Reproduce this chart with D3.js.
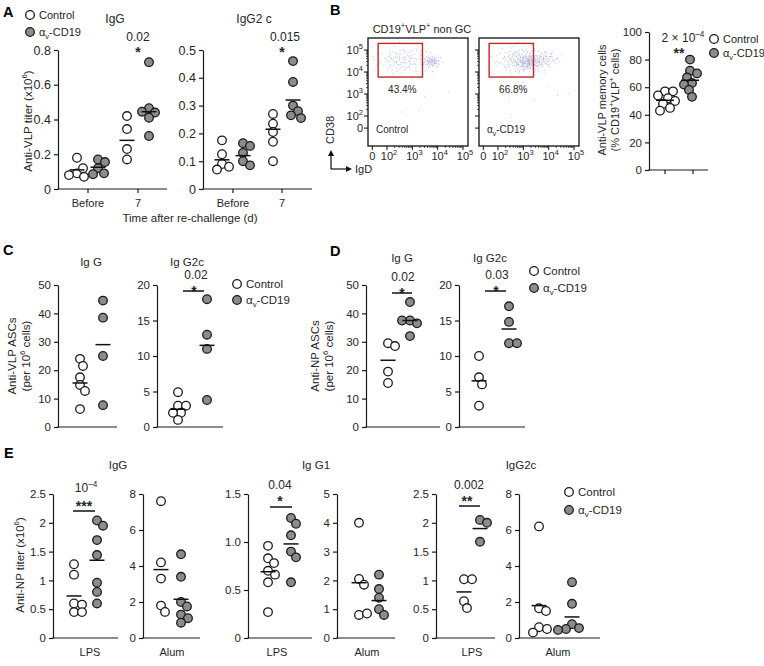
<!DOCTYPE html>
<html>
<head>
<meta charset="utf-8">
<script src="https://cdn.jsdelivr.net/npm/d3@7"></script>
<style>
  body { margin: 0; background: #fff; }
  svg { font-family: "Liberation Sans", Arial, Helvetica, sans-serif; }
</style>
</head>
<body>
<svg id="fig" width="764" height="666"></svg>
<script>
// ---------- data ----------
var groupNames = ['Control', 'αv-CD19'];

// A: anti-VLP titer (x10^6), before / day 7 after re-challenge
var aTimes = ['Before', '7'];
var aIgGCtrl = [[0.18, 0.09, 0.07, 0.08, 0.12], [0.42, 0.345, 0.23, 0.17]];
var aIgGCd19 = [[0.12, 0.17, 0.155, 0.09, 0.085], [0.73, 0.465, 0.44, 0.445, 0.41, 0.305]];
var aIgGCtrlMean = [0.11, 0.28];
var aIgGCd19Mean = [0.125, 0.445];
var aIgG2cCtrl = [[0.175, 0.125, 0.09, 0.08, 0.07], [0.27, 0.235, 0.205, 0.17, 0.1]];
var aIgG2cCd19 = [[0.165, 0.155, 0.13, 0.1, 0.085], [0.46, 0.385, 0.3, 0.28, 0.265, 0.255]];
var aIgG2cCtrlMean = [0.105, 0.215];
var aIgG2cCd19Mean = [0.12, 0.32];
var aTicksIgG = [0, 0.2, 0.4, 0.6, 0.8];
var aTicksIgG2c = [0, 0.1, 0.2, 0.3, 0.4, 0.5];
var aPvals = ['0.02', '0.015'];

// B: flow plots (log decades) and memory cell %
var flowTickExp = [0, 2, 3, 4, 5];
var flowGate = [1.65, 3.4, 3.77, 5.3];      // x from, x to, y from, y to (decades)
var flowGatePct = ['43.4%', '66.8%'];
var flowCtrlClusters = [
  {x: 2.6, y: 4.55, sx: 0.5, sy: 0.3, n: 120},
  {x: 3.75, y: 4.5, sx: 0.18, sy: 0.14, n: 80},
  {x: 3.0, y: 3.0, sx: 0.8, sy: 0.7, n: 8}
];
var flowCd19Clusters = [
  {x: 2.9, y: 4.55, sx: 0.5, sy: 0.3, n: 190},
  {x: 3.2, y: 4.45, sx: 0.25, sy: 0.18, n: 120},
  {x: 3.8, y: 4.6, sx: 0.3, sy: 0.2, n: 60},
  {x: 3.3, y: 3.0, sx: 0.9, sy: 0.6, n: 10}
];
var bCtrl = [57, 57, 54, 52, 50, 48, 45, 43];
var bCd19 = [80, 72, 70, 67, 63, 62, 58, 53];
var bMeans = [50.5, 65];
var bTicks = [0, 20, 40, 60, 80, 100];

// C: anti-VLP ASCs per 10^6 cells
var cIgGCtrl = [24, 21.5, 17.5, 14.8, 12.7, 6.3];
var cIgGCd19 = [44.5, 38.5, 25, 7.7];
var cIgGMeans = [15.5, 29];
var cIgG2cCtrl = [4.9, 3, 3, 2, 2, 1];
var cIgG2cCd19 = [18, 13, 11, 3.8];
var cIgG2cMeans = [2.5, 11.5];

// D: anti-NP ASCs per 10^6 cells
var dIgGCtrl = [29.5, 28.5, 19.5, 15.5];
var dIgGCd19 = [44, 37.5, 36.5, 37.5, 32];
var dIgGMeans = [23.5, 37.5];
var dIgG2cCtrl = [10, 7, 6, 3];
var dIgG2cCd19 = [17, 14.8, 11.8, 11.8];
var dIgG2cMeans = [6.5, 13.8];
var ascTicks50 = [0, 10, 20, 30, 40, 50];
var ascTicks20 = [0, 5, 10, 15, 20];

// E: anti-NP titer (x10^6), LPS / Alum
var eIgGLpsCtrl = [1.28, 1.1, 0.6, 0.58, 0.45, 0.45];
var eIgGLpsCd19 = [2.04, 1.95, 1.7, 1.44, 0.96, 0.8, 0.6];
var eIgGLpsMeans = [0.73, 1.35];
var eIgGAlumCtrl = [7.6, 4.2, 3.3, 1.8, 1.45];
var eIgGAlumCd19 = [4.65, 3.4, 2.0, 1.75, 1.3, 1.1, 0.85];
var eIgGAlumMeans = [3.8, 2.15];
var eIgG1LpsCtrl = [0.96, 0.83, 0.78, 0.7, 0.66, 0.58, 0.27];
var eIgG1LpsCd19 = [1.25, 1.19, 1.07, 0.9, 0.84, 0.58];
var eIgG1LpsMeans = [0.69, 0.98];
var eIgG1AlumCtrl = [4.0, 2.05, 1.85, 0.8, 0.85];
var eIgG1AlumCd19 = [2.2, 1.7, 1.4, 1.0, 0.8];
var eIgG1AlumMeans = [1.92, 1.3];
var eIgG2cLpsCtrl = [1.02, 1.02, 0.64, 0.52];
var eIgG2cLpsCd19 = [2.05, 2.0, 1.67];
var eIgG2cLpsMeans = [0.8, 1.9];
var eIgG2cAlumCtrl = [6.2, 1.65, 1.5, 0.6, 0.5, 0.3];
var eIgG2cAlumCd19 = [3.1, 1.9, 0.77, 0.55, 0.5, 0.45];
var eIgG2cAlumMeans = [1.8, 1.17];
var eTicks25 = [0, 0.5, 1, 1.5, 2, 2.5];
var eTicks8 = [0, 2, 4, 6, 8];
var eTicks15 = [0, 0.5, 1.0, 1.5];
var eTicks5 = [0, 1, 2, 3, 4, 5];

// ---------- drawing ----------
var fig = d3.select('#fig');
var INK = '#262626';
var GREY = '#8c8c8c';
var R = 4.3;

function rich(g, x, y, parts, o) {
  o = o || {};
  var fs = o.size || 11;
  var t = g.append('text')
    .attr('x', x).attr('y', y)
    .attr('font-size', fs)
    .attr('text-anchor', o.anchor || 'start')
    .attr('fill', INK);
  if (o.weight) t.attr('font-weight', o.weight);
  if (o.rotate) t.attr('transform', 'rotate(-90,' + x + ',' + y + ')');
  var shift = 0;
  [].concat(parts).forEach(function(p) {
    var s = typeof p === 'string' ? [p, ''] : p;
    var target = s[1] === 'sup' ? -0.42 * fs : (s[1] === 'sub' ? 0.28 * fs : 0);
    var ts = t.append('tspan').text(s[0]).attr('dy', target - shift);
    if (s[1]) ts.attr('font-size', fs * 0.68);
    shift = target;
  });
  return t;
}

var cd19Label = ['α', ['v', 'sub'], '-CD19'];

function dot(g, x, y, filled) {
  g.append('circle').attr('cx', x).attr('cy', y).attr('r', R)
    .attr('fill', filled ? GREY : '#fff')
    .attr('stroke', '#1a1a1a').attr('stroke-width', 1.3);
}

function legend(cx, y1, y2, size) {
  var g = fig.append('g');
  dot(g, cx, y1, false);
  dot(g, cx, y2, true);
  rich(g, cx + 9, y1 + 4, 'Control', {size: size || 11});
  rich(g, cx + 9, y2 + 4, cd19Label, {size: size || 11});
}

function swarm(vals, y, cx, minD) {
  var placed = [];
  return vals.map(function(v) {
    var py = y(v), px = cx;
    for (var k = 0; k < 40; k++) {
      var dx = (k % 2 ? 1 : -1) * Math.ceil(k / 2);
      px = cx + dx;
      var ok = placed.every(function(p) { return Math.hypot(p[0] - px, p[1] - py) >= minD; });
      if (ok) break;
    }
    placed.push([px, py]);
    return {v: v, x: px, y: py};
  });
}

function dotPlot(s) {
  var g = fig.append('g');
  var y = d3.scaleLinear().domain([0, s.max]).range([s.bot, s.top]);
  var ya = g.append('g')
    .attr('transform', 'translate(' + s.x0 + ',0)')
    .call(d3.axisLeft(y).tickValues(s.ticks).tickFormat(s.fmt || d3.format(''))
      .tickSize(4).tickSizeOuter(0));
  ya.attr('font-size', s.fs || 11.5).attr('font-family', null).attr('color', '#1a1a1a');
  ya.selectAll('path, line').attr('stroke-width', 1.2);
  ya.selectAll('text').attr('fill', INK);

  g.append('line')
    .attr('x1', s.x0 - 0.6).attr('x2', s.x1)
    .attr('y1', s.bot).attr('y2', s.bot)
    .attr('stroke', '#1a1a1a').attr('stroke-width', 1.2);

  var x = d3.scaleOrdinal().domain(d3.range(s.groups.length)).range(s.gx);

  s.groups.forEach(function(grp, i) {
    swarm(grp.vals, y, x(i), 7.4).forEach(function(p) { dot(g, p.x, p.y, grp.filled); });
  });
  g.selectAll('line.mean')
    .data(s.groups)
    .enter()
    .append('line')
    .classed('mean', true)
    .attr('x1', function(d, i) { return x(i) - (s.mw || 7.5); })
    .attr('x2', function(d, i) { return x(i) + (s.mw || 7.5); })
    .attr('y1', function(d) { return y(d.mean); })
    .attr('y2', function(d) { return y(d.mean); })
    .attr('stroke', '#111').attr('stroke-width', 1.5);

  (s.cats || []).forEach(function(c) {
    if (s.catTicks) {
      g.append('line').attr('x1', c.x).attr('x2', c.x)
        .attr('y1', s.bot).attr('y2', s.bot + 4)
        .attr('stroke', '#1a1a1a').attr('stroke-width', 1.2);
    }
    if (c.label) rich(g, c.x, s.catY, c.label, {anchor: 'middle', size: 11});
  });

  if (s.sig) {
    var q = s.sig;
    rich(g, q.x, q.py, q.p, {anchor: 'middle', size: 12});
    rich(g, q.sx || q.x, q.sy + 1, q.stars, {anchor: 'middle', size: 14, weight: 'bold'});
    if (q.bar) {
      g.append('line').attr('x1', q.bar[0]).attr('x2', q.bar[1])
        .attr('y1', q.bar[2]).attr('y2', q.bar[2])
        .attr('stroke', '#111').attr('stroke-width', 1.5);
    }
  }
  return g;
}

function groupsOf(ctrl, cd19, means) {
  return [{vals: ctrl, mean: means[0], filled: false}, {vals: cd19, mean: means[1], filled: true}];
}

var fmt1 = function(d) { return d === 0 ? '0' : d3.format('.1f')(d); };

// ---- panel letters
[['A', 3, 17], ['B', 330, 15], ['C', 3, 255], ['D', 330, 256], ['E', 4, 458]].forEach(function(l) {
  rich(fig, l[1], l[2], l[0], {size: 14.5, weight: 'bold'}).attr('fill', '#000');
});

// ---- A
var aX = d3.scalePoint().domain(aTimes).range([88, 138]);
var aX2 = d3.scalePoint().domain(aTimes).range([233, 282]);
legend(30, 15, 32, 11);
rich(fig, 115, 23, 'IgG', {anchor: 'middle', size: 12});
rich(fig, 254, 23, 'IgG2 c', {anchor: 'middle', size: 12});
dotPlot({
  x0: 58, x1: 167, top: 50, bot: 189, max: 0.8, ticks: aTicksIgG, fmt: fmt1, fs: 12.5,
  gx: [aX('Before') - 11, aX('Before') + 10, aX('7') - 11, aX('7') + 11],
  groups: [
    {vals: aIgGCtrl[0], mean: aIgGCtrlMean[0]}, {vals: aIgGCd19[0], mean: aIgGCd19Mean[0], filled: true},
    {vals: aIgGCtrl[1], mean: aIgGCtrlMean[1]}, {vals: aIgGCd19[1], mean: aIgGCd19Mean[1], filled: true}
  ],
  cats: aTimes.map(function(t) { return {x: aX(t), label: t}; }), catTicks: true, catY: 207,
  sig: {x: 138, py: 41, p: aPvals[0], sy: 56, stars: '*'}
});
dotPlot({
  x0: 203, x1: 312, top: 50, bot: 189, max: 0.5, ticks: aTicksIgG2c, fmt: fmt1, fs: 12.5,
  gx: [aX2('Before') - 11, aX2('Before') + 10, aX2('7') - 9, aX2('7') + 11],
  groups: [
    {vals: aIgG2cCtrl[0], mean: aIgG2cCtrlMean[0]}, {vals: aIgG2cCd19[0], mean: aIgG2cCd19Mean[0], filled: true},
    {vals: aIgG2cCtrl[1], mean: aIgG2cCtrlMean[1]}, {vals: aIgG2cCd19[1], mean: aIgG2cCd19Mean[1], filled: true}
  ],
  cats: aTimes.map(function(t) { return {x: aX2(t), label: t}; }), catTicks: true, catY: 207,
  sig: {x: 285, py: 41, p: aPvals[1], sx: 282, sy: 56, stars: '*'}
});
rich(fig, 190, 222, 'Time after re-challenge (d)', {anchor: 'middle', size: 11.5});
rich(fig, 32, 121, ['Anti-VLP titer (x10', ['6', 'sup'], ')'], {anchor: 'middle', size: 11.5, rotate: true});

// ---- B flow
function halton(i, b) {
  var f = 1, r = 0;
  while (i > 0) { f /= b; r += f * (i % b); i = Math.floor(i / b); }
  return r;
}

function flowPlot(x0, clusters, pct, name, yLabels) {
  var top = 38, bot = 146, w = 100;
  var g = fig.append('g');
  var x = d3.scaleLinear().domain([2, 5]).range([x0 + 19, x0 + 95]);
  var y = d3.scaleLinear().domain([2, 5]).range([116, 50]);
  var zx = 1.42, zy = 1.45;

  clusters.forEach(function(c, ci) {
    var pts = d3.range(c.n).map(function(i) {
      var k = i + 1 + ci * 53;
      var rr = Math.sqrt(-2 * Math.log(halton(k, 2)));
      var th = 2 * Math.PI * halton(k, 3);
      return [c.x + c.sx * rr * Math.cos(th), c.y + c.sy * rr * Math.sin(th)];
    }).filter(function(d) {
      return x(d[0]) > x0 + 1 && x(d[0]) < x0 + w - 1 && y(d[1]) > top + 1 && y(d[1]) < bot - 1;
    });
    g.selectAll(null).data(pts).enter().append('rect')
      .attr('x', function(d) { return x(d[0]); })
      .attr('y', function(d) { return y(d[1]); })
      .attr('width', 1).attr('height', 1)
      .attr('fill', '#8f94d2').attr('opacity', 0.6);
  });

  g.append('rect')
    .attr('x', x(flowGate[0])).attr('y', y(flowGate[3]))
    .attr('width', x(flowGate[1]) - x(flowGate[0]))
    .attr('height', y(flowGate[2]) - y(flowGate[3]))
    .attr('fill', 'none').attr('stroke', '#c0282d').attr('stroke-width', 1.4);
  rich(g, (x(flowGate[0]) + x(flowGate[1])) / 2 + 2, 93, pct, {anchor: 'middle', size: 10});
  rich(g, x0 + 8, 133, name, {size: 10});

  g.append('rect').attr('x', x0).attr('y', top).attr('width', w).attr('height', bot - top)
    .attr('fill', 'none').attr('stroke', '#111').attr('stroke-width', 1.3);

  var minors = [];
  [2, 3, 4].forEach(function(d) {
    d3.range(2, 10).forEach(function(k) { minors.push(d + Math.log10(k)); });
  });
  var xs = flowTickExp.map(function(e) { return e === 0 ? zx : e; });
  var ys = flowTickExp.map(function(e) { return e === 0 ? zy : e; });
  xs.forEach(function(e) {
    g.append('line').attr('x1', x(e)).attr('x2', x(e)).attr('y1', bot).attr('y2', bot + 4)
      .attr('stroke', '#111').attr('stroke-width', 1);
  });
  ys.forEach(function(e) {
    g.append('line').attr('y1', y(e)).attr('y2', y(e)).attr('x1', x0).attr('x2', x0 - 4)
      .attr('stroke', '#111').attr('stroke-width', 1);
  });
  minors.forEach(function(e) {
    g.append('line').attr('x1', x(e)).attr('x2', x(e)).attr('y1', bot).attr('y2', bot + 2)
      .attr('stroke', '#111').attr('stroke-width', 0.7);
    g.append('line').attr('y1', y(e)).attr('y2', y(e)).attr('x1', x0).attr('x2', x0 - 2)
      .attr('stroke', '#111').attr('stroke-width', 0.7);
  });
  flowTickExp.forEach(function(e, i) {
    var parts = e === 0 ? '0' : ['10', [String(e), 'sup']];
    rich(g, x(xs[i]) + (e === 0 ? 0 : 2), 160, parts, {anchor: 'middle', size: 11});
    if (yLabels) rich(g, x0 - 5, y(ys[i]) + 4, parts, {anchor: 'end', size: 11});
  });
}

rich(fig, 422, 33, ['CD19', ['+', 'sup'], 'VLP', ['+', 'sup'], ' non GC'], {anchor: 'middle', size: 11});
flowPlot(368, flowCtrlClusters, flowGatePct[0], 'Control', true);
flowPlot(479, flowCd19Clusters, flowGatePct[1], cd19Label, false);
rich(fig, 334, 130, 'CD38', {anchor: 'middle', size: 11, rotate: true});
// axis arrows
var arr = fig.append('g').attr('stroke', '#111').attr('stroke-width', 1.2).attr('fill', '#111');
arr.append('path').attr('d', 'M331,169V154').attr('fill', 'none');
arr.append('path').attr('d', 'M331,169H348').attr('fill', 'none');
arr.append('path').attr('d', 'M328,156L331,150L334,156Z').attr('stroke', 'none');
arr.append('path').attr('d', 'M346,166L352,169L346,172Z').attr('stroke', 'none');
rich(fig, 355, 173, 'IgD', {size: 11});

// B scatter
var bX = d3.scalePoint().domain(groupNames).range([665, 693]);
dotPlot({
  x0: 649, x1: 708, top: 32, bot: 170, max: 100, ticks: bTicks, fs: 11.5,
  gx: [bX('Control'), bX('αv-CD19') - 3], mw: 9,
  groups: groupsOf(bCtrl, bCd19, bMeans),
  cats: groupNames.map(function(n) { return {x: bX(n)}; }), catTicks: true,
  sig: {x: 683, py: 42, p: ['2 × 10', ['–4', 'sup']], sx: 679, sy: 57, stars: '**'}
});
legend(714, 39, 53, 11);
rich(fig, 606, 100, 'Anti-VLP memory cells', {anchor: 'middle', size: 11, rotate: true});
rich(fig, 619, 100, ['(% CD19', ['+', 'sup'], 'VLP', ['+', 'sup'], ' cells)'], {anchor: 'middle', size: 11, rotate: true});

// ---- C
rich(fig, 91, 266, 'Ig G', {anchor: 'middle', size: 11.5});
rich(fig, 187, 266, 'Ig G2c', {anchor: 'middle', size: 11.5});
dotPlot({
  x0: 58, x1: 117, top: 285, bot: 427, max: 50, ticks: ascTicks50,
  gx: [80, 103], groups: groupsOf(cIgGCtrl, cIgGCd19, cIgGMeans)
});
dotPlot({
  x0: 157, x1: 223, top: 285, bot: 427, max: 20, ticks: ascTicks20,
  gx: [178, 207], groups: groupsOf(cIgG2cCtrl, cIgG2cCd19, cIgG2cMeans),
  sig: {x: 196, py: 279, p: '0.02', sx: 194, sy: 295, stars: '*', bar: [183, 204, 291]}
});
legend(237, 284, 300, 11.5);
rich(fig, 16, 356, 'Anti-VLP ASCs', {anchor: 'middle', size: 11.5, rotate: true});
rich(fig, 30, 356, ['(per 10', ['6', 'sup'], ' cells)'], {anchor: 'middle', size: 11.5, rotate: true});

// ---- D
rich(fig, 402, 262, 'Ig G', {anchor: 'middle', size: 11.5});
rich(fig, 490, 262, 'Ig G2c', {anchor: 'middle', size: 11.5});
dotPlot({
  x0: 366, x1: 440, top: 285, bot: 427, max: 50, ticks: ascTicks50,
  gx: [388, 410], groups: groupsOf(dIgGCtrl, dIgGCd19, dIgGMeans),
  sig: {x: 403, py: 281, p: '0.02', sx: 402, sy: 297, stars: '*', bar: [392, 412, 293]}
});
dotPlot({
  x0: 459, x1: 525, top: 285, bot: 427, max: 20, ticks: ascTicks20,
  gx: [479, 509], groups: groupsOf(dIgG2cCtrl, dIgG2cCd19, dIgG2cMeans),
  sig: {x: 497, py: 279, p: '0.03', sx: 496, sy: 295, stars: '*', bar: [485, 506, 291]}
});
legend(534, 271, 288, 11.5);
rich(fig, 319, 356, 'Anti-NP ASCs', {anchor: 'middle', size: 11.5, rotate: true});
rich(fig, 333, 356, ['(per 10', ['6', 'sup'], ' cells)'], {anchor: 'middle', size: 11.5, rotate: true});

// ---- E
rich(fig, 118, 469, 'IgG', {anchor: 'middle', size: 11.5});
rich(fig, 316, 469, 'Ig G1', {anchor: 'middle', size: 11.5});
rich(fig, 521, 469, 'IgG2c', {anchor: 'middle', size: 11.5});
var eTop = 494, eBot = 638, eCatY = 656;
dotPlot({
  x0: 53, x1: 118, top: eTop, bot: eBot, max: 2.5, ticks: eTicks25,
  gx: [74, 97], groups: groupsOf(eIgGLpsCtrl, eIgGLpsCd19, eIgGLpsMeans),
  cats: [{x: 90, label: 'LPS'}], catY: eCatY,
  sig: {x: 86, py: 492, p: ['10', ['–4', 'sup']], sx: 84, sy: 510, stars: '***', bar: [73, 95, 511]}
});
dotPlot({
  x0: 143, x1: 200, top: eTop, bot: eBot, max: 8, ticks: eTicks8,
  gx: [161, 181], groups: groupsOf(eIgGAlumCtrl, eIgGAlumCd19, eIgGAlumMeans),
  cats: [{x: 172, label: 'Alum'}], catY: eCatY
});
dotPlot({
  x0: 248, x1: 312, top: eTop, bot: eBot, max: 1.5, ticks: eTicks15, fmt: fmt1,
  gx: [268, 291], groups: groupsOf(eIgG1LpsCtrl, eIgG1LpsCd19, eIgG1LpsMeans),
  cats: [{x: 277, label: 'LPS'}], catY: eCatY,
  sig: {x: 280, py: 489, p: '0.04', sy: 505, stars: '*', bar: [270, 292, 507]}
});
dotPlot({
  x0: 337, x1: 395, top: eTop, bot: eBot, max: 5, ticks: eTicks5,
  gx: [359, 379], groups: groupsOf(eIgG1AlumCtrl, eIgG1AlumCd19, eIgG1AlumMeans),
  cats: [{x: 367, label: 'Alum'}], catY: eCatY
});
dotPlot({
  x0: 436, x1: 495, top: eTop, bot: eBot, max: 2.5, ticks: eTicks25,
  gx: [464, 480], groups: groupsOf(eIgG2cLpsCtrl, eIgG2cLpsCd19, eIgG2cLpsMeans),
  cats: [{x: 472, label: 'LPS'}], catY: eCatY,
  sig: {x: 469, py: 489, p: '0.002', sx: 467, sy: 505, stars: '**', bar: [459, 480, 506]}
});
dotPlot({
  x0: 519, x1: 600, top: eTop, bot: eBot, max: 8, ticks: eTicks8,
  gx: [539, 572], groups: groupsOf(eIgG2cAlumCtrl, eIgG2cAlumCd19, eIgG2cAlumMeans),
  cats: [{x: 558, label: 'Alum'}], catY: eCatY
});
legend(569, 492, 510, 11.5);
rich(fig, 24, 565, ['Anti-NP titer (x10', ['6', 'sup'], ')'], {anchor: 'middle', size: 11.5, rotate: true});
</script>
</body>
</html>
